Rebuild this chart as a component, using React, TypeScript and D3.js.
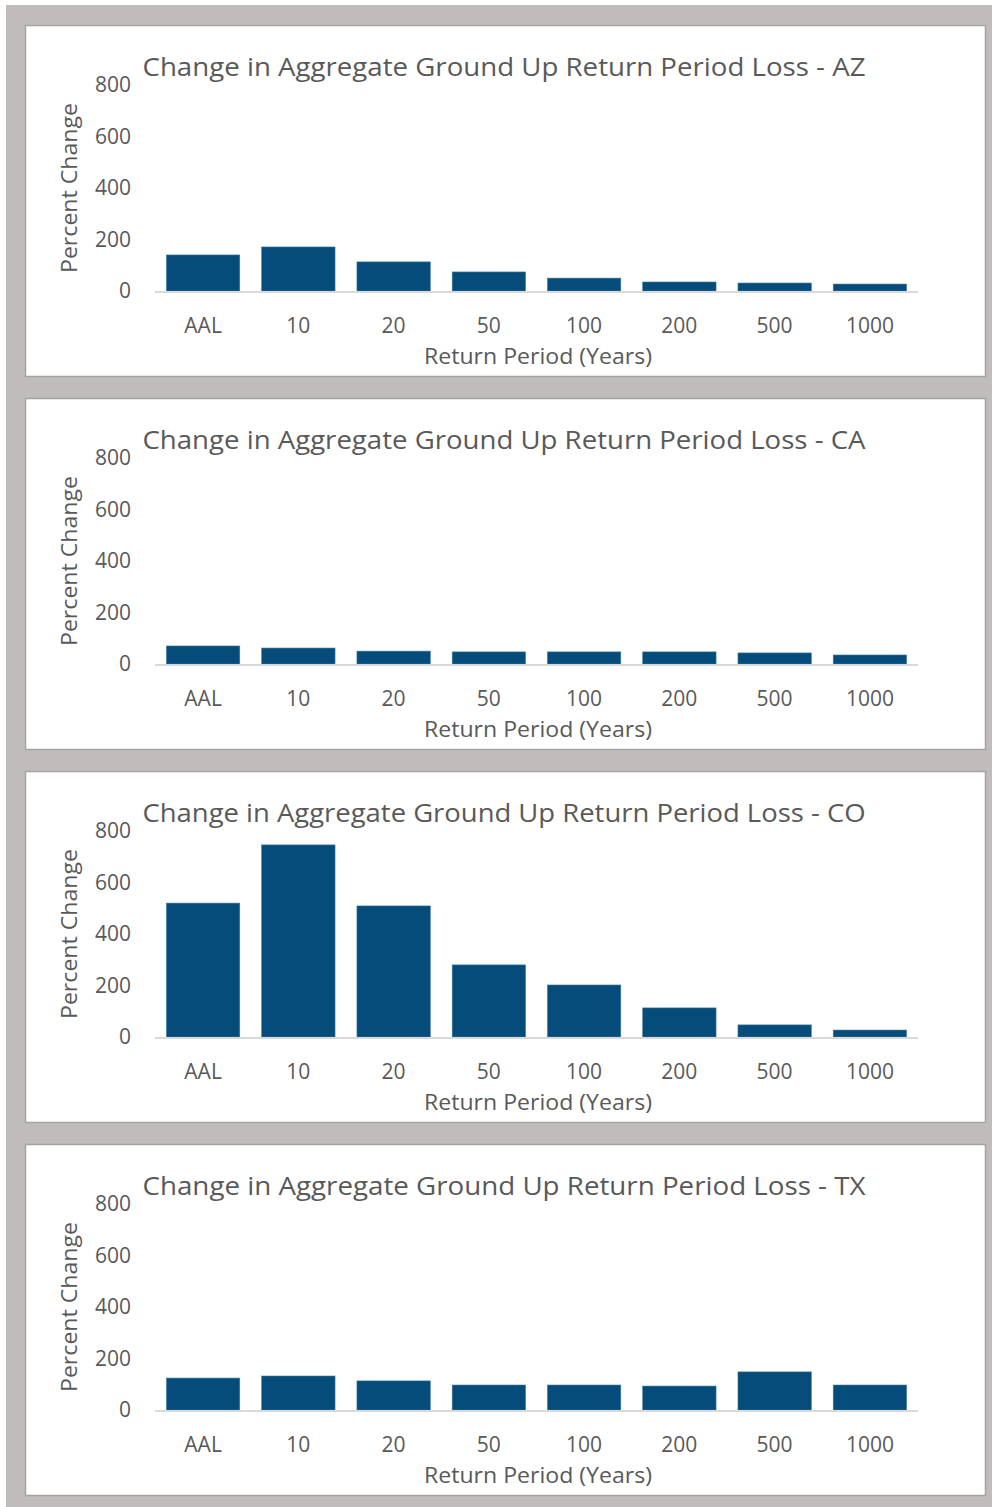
import { useEffect, useRef } from "react";
import * as d3 from "d3";

const periods = ["AAL", "10", "20", "50", "100", "200", "500", "1000"];
const states = ["AZ", "CA", "CO", "TX"];
const azValues = [140, 171, 113, 74, 50, 35, 31, 27];
const caValues = [70, 62, 50, 47, 47, 47, 43, 35];
const coValues = [520, 746, 509, 280, 202, 113, 47, 27];
const txValues = [124, 132, 113, 97, 97, 93, 148, 97];
const yTicks = [0, 200, 400, 600, 800];

export default function App() {
  const ref = useRef<SVGSVGElement>(null);

  useEffect(() => {
    const svg = d3.select(ref.current);
    svg.selectAll("*").remove();

    const width = 992;
    const height = 1507;
    const font = "'Open Sans', sans-serif";
    const textColor = "#595959";

    svg.attr("width", width).attr("height", height);

    svg.append("rect")
      .attr("x", 6).attr("y", 5)
      .attr("width", width - 6).attr("height", height - 5)
      .attr("fill", "#c0bcbb");

    const series = [azValues, caValues, coValues, txValues];

    const x = d3.scaleBand()
      .domain(periods)
      .range([155, 918])
      .paddingInner(0.23)
      .paddingOuter(0.12);

    series.forEach((values, i) => {
      const top = 25 + i * 373;
      const panel = svg.append("g").attr("transform", `translate(0,${top})`);

      panel.append("rect")
        .attr("x", 25.5).attr("y", 0.5)
        .attr("width", 960).attr("height", 351)
        .attr("fill", "#fff")
        .attr("stroke", "#a3a3a3")
        .attr("stroke-width", 1.5);

      const y = d3.scaleLinear().domain([0, 800]).range([266, 60]);

      panel.append("text")
        .attr("x", 504).attr("y", 51)
        .attr("text-anchor", "middle")
        .attr("font-family", font)
        .attr("font-size", 25)
        .attr("fill", textColor)
        .attr("textLength", 723)
        .attr("lengthAdjust", "spacingAndGlyphs")
        .text(`Change in Aggregate Ground Up Return Period Loss - ${states[i]}`);

      panel.selectAll(".ytick")
        .data(yTicks)
        .join("text")
        .attr("x", 131)
        .attr("y", d => y(d))
        .attr("dy", "0.35em")
        .attr("text-anchor", "end")
        .attr("font-family", font)
        .attr("font-size", 21)
        .attr("fill", textColor)
        .text(d => d);

      panel.append("text")
        .attr("transform", `translate(70,163) rotate(-90)`)
        .attr("dy", "0.35em")
        .attr("text-anchor", "middle")
        .attr("font-family", font)
        .attr("font-size", 21)
        .attr("fill", textColor)
        .attr("textLength", 170)
        .attr("lengthAdjust", "spacingAndGlyphs")
        .text("Percent Change");

      panel.selectAll(".bar")
        .data(values)
        .join("rect")
        .attr("x", (_, j) => x(periods[j])!)
        .attr("y", d => y(d))
        .attr("width", x.bandwidth())
        .attr("height", d => y(0) - y(d))
        .attr("fill", "#064c7a")
        .attr("stroke", "#3f7aa3")
        .attr("stroke-width", 0.6);

      panel.append("line")
        .attr("x1", 155).attr("x2", 918)
        .attr("y1", y(0) + 1).attr("y2", y(0) + 1)
        .attr("stroke", "#d9d9d9")
        .attr("stroke-width", 2);

      panel.selectAll(".xtick")
        .data(periods)
        .join("text")
        .attr("x", d => x(d)! + x.bandwidth() / 2)
        .attr("y", 301)
        .attr("dy", "0.35em")
        .attr("text-anchor", "middle")
        .attr("font-family", font)
        .attr("font-size", 21)
        .attr("fill", textColor)
        .text(d => d);

      panel.append("text")
        .attr("x", 538).attr("y", 332)
        .attr("dy", "0.35em")
        .attr("text-anchor", "middle")
        .attr("font-family", font)
        .attr("font-size", 21)
        .attr("fill", textColor)
        .attr("textLength", 228)
        .attr("lengthAdjust", "spacingAndGlyphs")
        .text("Return Period (Years)");
    });
  }, []);

  return <svg ref={ref} style={{ position: "absolute", left: 0, top: 0 }}></svg>;
}
